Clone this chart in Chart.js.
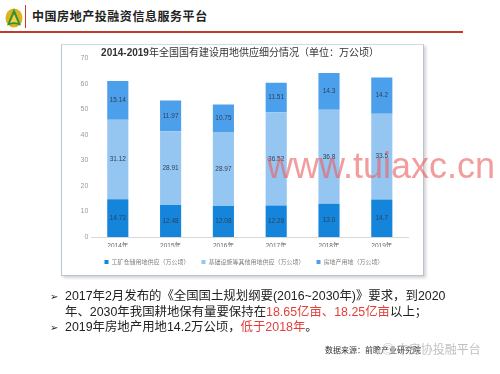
<!DOCTYPE html>
<html><head><meta charset="utf-8">
<script src="https://cdn.jsdelivr.net/npm/chart.js@4.4.1/dist/chart.umd.min.js"></script>
<style>
html,body{margin:0;padding:0;background:#fff;width:500px;height:374px;overflow:hidden;position:relative;font-family:"Liberation Sans","Noto Sans CJK SC",sans-serif;}
.abs{position:absolute;white-space:nowrap;}
#hdrTitle{left:32px;top:7px;font-size:12px;letter-spacing:0.55px;font-weight:bold;color:#222;font-family:"Noto Sans CJK SC",sans-serif;line-height:18px;}
#vline{left:24.5px;top:5px;width:1.5px;height:23px;background:#c0392b;}
#hline{left:0;top:31px;width:463px;height:2px;background:#c23a2e;}
#box{left:61px;top:44px;width:363px;height:232px;box-sizing:border-box;border:1px solid #b8c4d2;border-top-color:#cfdbe8;box-shadow:2px 2px 3px rgba(0,0,0,0.18);background:#fff;z-index:0;}
#ctitle{left:0;width:480px;text-align:center;top:46px;font-size:10px;line-height:14px;color:#333;z-index:2;}
#ctitle b{font-weight:bold;}
canvas#c{position:absolute;left:0;top:0;z-index:1;}
.note{left:50px;font-size:12.4px;line-height:16px;color:#222;z-index:2;}
.note .arr{display:inline-block;width:15px;font-family:"DejaVu Sans";font-size:10px;}
.note .ind{display:inline-block;width:15px;}
.red{color:#e2403b;}
#src{left:325px;top:343px;font-size:8px;line-height:14px;color:#333;font-family:"Noto Sans CJK SC",sans-serif;z-index:2;}
#wm2{left:382px;top:340px;font-size:12px;line-height:18px;color:rgba(140,140,140,0.55);font-family:"Noto Sans CJK SC",sans-serif;z-index:3;}
#wm1{left:267px;top:147.5px;font-size:36px;line-height:36px;color:rgba(236,96,96,0.62);font-family:"Liberation Sans",sans-serif;z-index:3;}
</style>
</head><body>
<svg class="abs" style="left:4px;top:5px" width="20" height="24" viewBox="0 0 20 24">
 <ellipse cx="10" cy="13" rx="8.5" ry="9.5" fill="#dcb21e"/>
 <path d="M10 3.5 L17 20.5 Q10 17.5 3 20.5 Z" fill="#2f8f3a"/>
 <path d="M10 9 L14 18 Q10 16.5 6 18 Z" fill="#f2d14a"/>
</svg>
<div class="abs" id="vline"></div>
<div class="abs" id="hdrTitle">中国房地产投融资信息服务平台</div>
<div class="abs" id="hline"></div>
<div class="abs" id="box"></div>
<div class="abs" id="ctitle"><b>2014-2019</b>年全国国有建设用地供应细分情况（单位：万公顷）</div>
<canvas id="c" width="500" height="374"></canvas>
<div class="abs note" style="top:288px"><span class="arr">➢</span>2017年2月发布的《全国国土规划纲要(2016~2030年)》要求，到2020</div>
<div class="abs note" style="top:304px"><span class="ind"></span>年、2030年我国耕地保有量要保持在<span class="red">18.65亿亩、18.25亿亩</span>以上；</div>
<div class="abs note" style="top:319px"><span class="arr">➢</span>2019年房地产用地14.2万公顷，<span class="red">低于2018年</span>。</div>
<div class="abs" id="src">数据来源：前瞻产业研究院</div>
<div class="abs" id="wm2">◎ 中房协投融平台</div>
<div class="abs" id="wm1">www.tuiaxc.cn</div>
<script>
const years = ['2014年','2015年','2016年','2017年','2018年','2019年'];
const industrial = [14.73, 12.48, 12.08, 12.28, 13.0, 14.7];
const infrastructure = [31.12, 28.91, 28.97, 36.52, 36.8, 33.5];
const realEstate = [15.14, 11.97, 10.75, 11.51, 14.3, 14.2];
const seriesNames = ['工矿仓储用地供应（万公顷）','基础设施等其他用地供应（万公顷）','房地产用地（万公顷）'];
const seriesColors = ['#1585dc','#95c6f1','#4c9fea'];
const yTicks = [0,10,20,30,40,50,60,70];

const FONT = '"Liberation Sans","Noto Sans CJK SC",sans-serif';

const segLabels = {
  id: 'segLabels',
  afterDatasetsDraw(chart) {
    const ctx = chart.ctx;
    ctx.save();
    ctx.font = '6.5px ' + FONT;
    ctx.fillStyle = '#30425a';
    ctx.textAlign = 'center';
    ctx.textBaseline = 'middle';
    chart.data.datasets.forEach((ds, i) => {
      chart.getDatasetMeta(i).data.forEach((el, j) => {
        const p = el.getProps(['x','y','base'], true);
        const v = ds.data[j];
        ctx.fillText(Number.isInteger(v) ? v.toFixed(1) : String(v), p.x, (p.y + p.base) / 2);
      });
    });
    ctx.restore();
  }
};

new Chart(document.getElementById('c'), {
  type: 'bar',
  data: {
    labels: years,
    datasets: [industrial, infrastructure, realEstate].map((d, i) => ({
      label: seriesNames[i],
      data: d,
      backgroundColor: seriesColors[i],
      borderWidth: 0,
      barPercentage: 0.4,
      categoryPercentage: 1.0
    }))
  },
  options: {
    responsive: false,
    animation: false,
    layout: { padding: { left: 79.8, right: 91.8, top: 58, bottom: 99 } },
    plugins: {
      legend: {
        position: 'bottom',
        labels: { boxWidth: 4, boxHeight: 4, padding: 12, color: '#808080',
                  font: { size: 6, family: '"Noto Sans CJK SC",sans-serif' } }
      },
      tooltip: { enabled: false }
    },
    scales: {
      x: {
        stacked: true,
        grid: { display: false, drawTicks: false },
        border: { display: true, color: '#d9d9d9' },
        ticks: { color: '#666', padding: 5, font: { size: 6.5, family: FONT } },
        afterFit(s) { s.height = 10; }
      },
      y: {
        stacked: true,
        min: 0, max: 70,
        grid: { display: false, drawTicks: false },
        border: { display: false },
        ticks: { color: '#9a9a9a', padding: 3, font: { size: 7, family: FONT } },
        afterBuildTicks(s) { s.ticks = yTicks.map(v => ({ value: v })); },
        afterFit(s) { s.width = 11.6; }
      }
    }
  },
  plugins: [segLabels]
});
</script>
</body></html>
